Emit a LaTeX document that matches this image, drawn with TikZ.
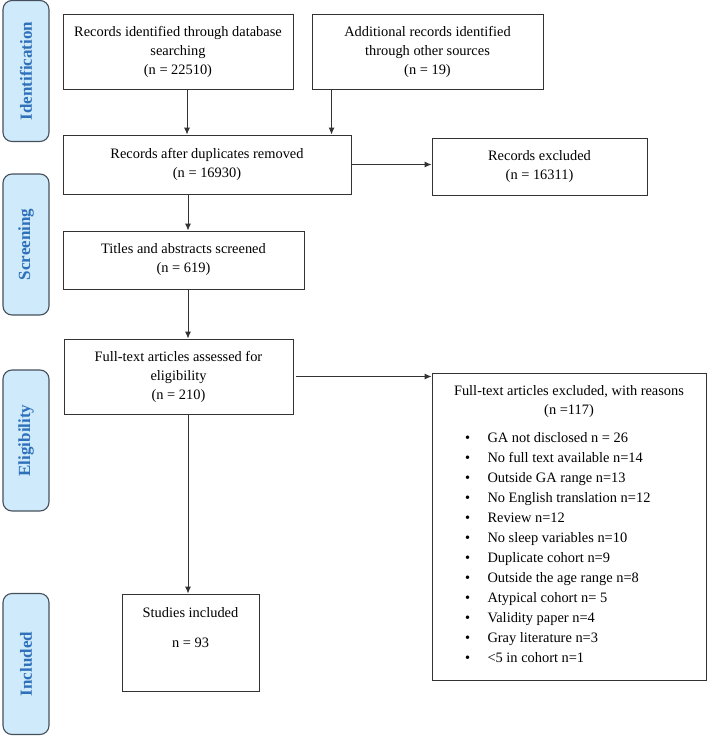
\documentclass[tikz,border=0pt]{standalone}
\usepackage{fontspec}
\setmainfont{Liberation Serif}
\usepackage{xcolor}
\usetikzlibrary{arrows,arrows.meta,calc}

\definecolor{phaseblue}{RGB}{46,112,186}
\definecolor{phasefill}{RGB}{206,234,251}
\definecolor{phaseedge}{RGB}{70,80,92}

\begin{document}
\begin{tikzpicture} [
       x=1pt, y=-1pt,
       >={Latex[length=7pt,width=6pt]},
       font=\fontsize{14.4}{19}\selectfont,
       box/.style={draw=black!80, line width=0.9pt, inner xsep=4pt, inner ysep=0pt,
               text badly centered},
       phase/.style={draw=phaseedge, line width=1.1pt, fill=phasefill, rounded corners=9pt,
               rotate=90, minimum width=141pt, minimum height=46pt, inner sep=0pt,
               text=phaseblue, font=\fontsize{17}{20}\selectfont\bfseries},
        line/.style     = { draw=black!80, line width=0.9pt, ->},
       node distance=249.5pt,
       ]
       \useasboundingbox (0,0) rectangle (708,736);
       % phases on the left
       \node (ident) [phase] at (26,71) {Identification};
       \node (screen) [phase] at (26,244.5) {Screening};
       \node (elig) [phase] at (26,440.5) {Eligibility};
       \node (incl) [phase] at (26,664) {Included};
       % flow boxes
       \node (dbsearch) [box, text width=222pt, minimum height=75pt] at (178,51.5)
              {Records identified through database\\searching\\(n = 22510)};
       \node (othersrc) [box, text width=223pt, minimum height=75pt, right of = dbsearch]
              {Additional records identified\\through other sources\\(n = 19)};
       \node (dupl) [box, text width=280pt, minimum height=59pt] at (207,164.5)
              {Records after duplicates removed\\(n = 16930)};
       \node (recexcl) [box, text width=207pt, minimum height=57pt] at (539.5,166.5)
              {Records excluded\\(n = 16311)};
       \node (screened) [box, text width=233pt, minimum height=58pt] at (183.5,260)
              {Titles and abstracts screened\\(n = 619)};
       \node (fulltext) [box, text width=221pt, minimum height=75pt] at (178.5,376.5)
              {Full-text articles assessed for\\eligibility\\(n = 210)};
       \node (ftexcl) [box, text width=274pt, inner xsep=0pt, minimum height=307pt] at (569,526.5)
              {Full-text articles excluded, with reasons\\(n =117)\par
               \vspace{9pt}\fontsize{14.4}{20}\selectfont\noindent
               \makebox[\linewidth][l]{\begin{tabular}[t]{@{\hspace{33pt}}l@{\hspace{17.5pt}}l}
               \textbullet & GA not disclosed n = 26\\
               \textbullet & No full text available n=14\\
               \textbullet & Outside GA range n=13\\
               \textbullet & No English translation n=12\\
               \textbullet & Review n=12\\
               \textbullet & No sleep variables n=10\\
               \textbullet & Duplicate cohort n=9\\
               \textbullet & Outside the age range n=8\\
               \textbullet & Atypical cohort n= 5\\
               \textbullet & Validity paper n=4\\
               \textbullet & Gray literature n=3\\
               \textbullet & <5 in cohort n=1
               \end{tabular}}};
       \node (studies) [box, text width=129pt, minimum height=97pt] at (190.5,642.5)
              {Studies included\\[11pt]n = 93\\[11pt]\mbox{}};
       \coordinate (spine) at (188,0);
        \begin{scope}[every path/.style=line]
        \path ([xshift=9pt]dbsearch.south) -- ([xshift=9pt]dbsearch.south |- dupl.north);
        \path ([xshift=20pt]othersrc.south west) -- ([xshift=20pt]othersrc.south west |- dupl.north);
        \path (dupl.east) -- (dupl.east -| recexcl.west);
        \path (dupl.south -| spine) -- (screened.north -| spine);
        \path (screened.south -| spine) -- (fulltext.north -| spine);
        \path ([xshift=3pt]fulltext.east) -- (fulltext.east -| ftexcl.west);
        \path (fulltext.south -| spine) -- (studies.north -| spine);
\end{scope}
\end{tikzpicture}
\end{document}
